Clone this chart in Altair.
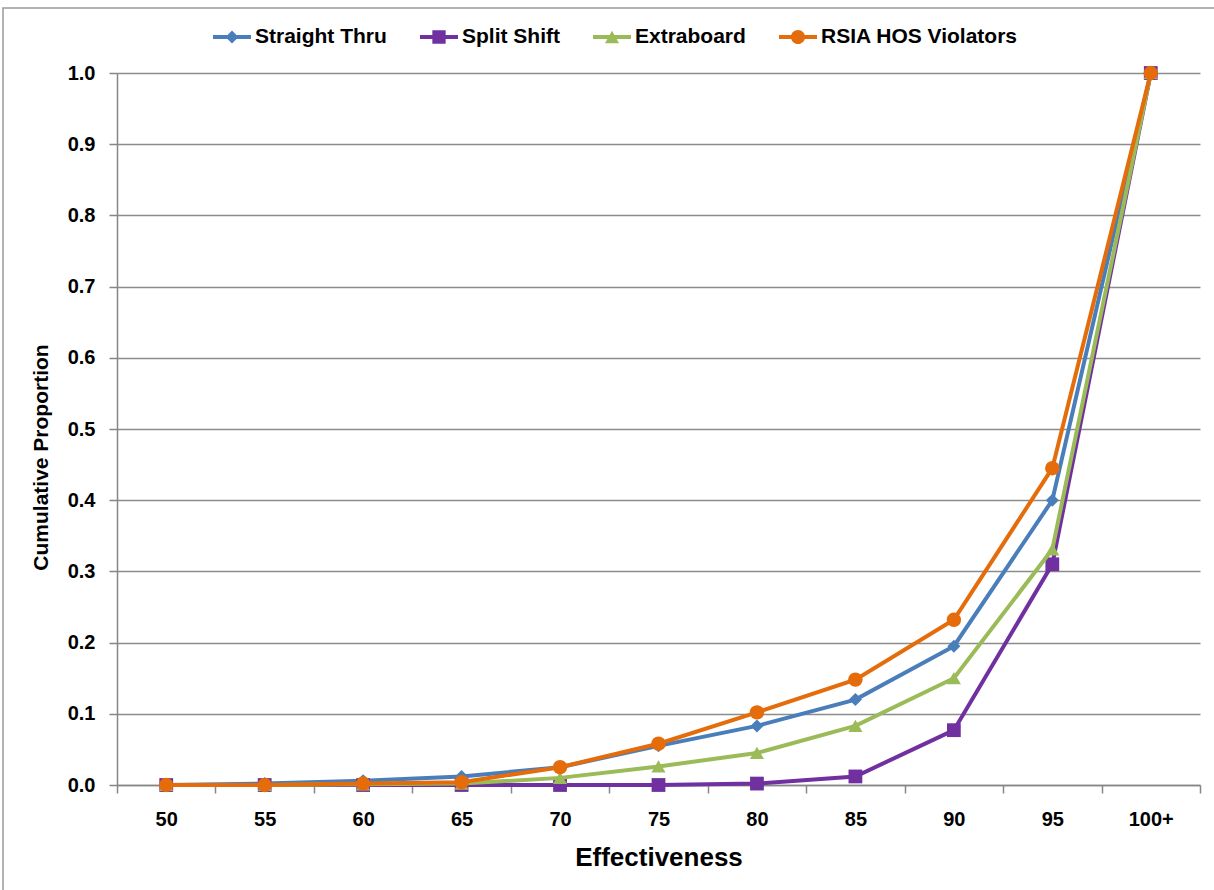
import altair as alt
import pandas as pd

# Effectiveness bins (x categories)
categories = ["50", "55", "60", "65", "70", "75", "80", "85", "90", "95", "100+"]

# Cumulative proportion per schedule type
straight_thru = [0.000, 0.002, 0.006, 0.012, 0.025, 0.055, 0.083, 0.120, 0.195, 0.400, 1.000]
split_shift = [0.000, 0.000, 0.000, 0.000, 0.000, 0.000, 0.002, 0.012, 0.077, 0.310, 1.000]
extraboard = [0.000, 0.000, 0.001, 0.002, 0.010, 0.026, 0.045, 0.083, 0.150, 0.331, 1.000]
rsia_hos = [0.000, 0.000, 0.002, 0.004, 0.025, 0.058, 0.102, 0.148, 0.232, 0.445, 1.000]

series_names = ["Straight Thru", "Split Shift", "Extraboard", "RSIA HOS Violators"]
series_values = [straight_thru, split_shift, extraboard, rsia_hos]
series_colors = ["#4A7EBB", "#7030A0", "#9BBB59", "#E46C0A"]
series_shapes = ["diamond", "square", "triangle-up", "circle"]
series_sizes = [170, 190, 200, 210]

FONT = "Liberation Sans"

rows = []
for name, vals in zip(series_names, series_values):
    for cat, v in zip(categories, vals):
        rows.append({"Effectiveness": cat, "Proportion": v, "Series": name})
df = pd.DataFrame(rows)

# legend glyphs: a short line with the series marker on top
bar = "M-1,-0.105H1V0.105H-1Z"
legend_paths = {
    "Straight Thru": bar + " M0,-0.34L0.34,0L0,0.34L-0.34,0Z",
    "Split Shift": bar + " M-0.35,-0.35H0.35V0.35H-0.35Z",
    "Extraboard": bar + " M0,-0.33L0.37,0.33L-0.37,0.33Z",
    "RSIA HOS Violators": bar + " M0.37,0A0.37,0.37 0 1,1 -0.37,0A0.37,0.37 0 1,1 0.37,0Z",
}
symbol_expr = " : ".join(
    f"datum.value === '{k}' ? '{v}'" for k, v in legend_paths.items()
) + " : 'circle'"

x_enc = alt.X(
    "Effectiveness:N",
    sort=categories,
    scale=alt.Scale(paddingInner=0, paddingOuter=0),
    axis=alt.Axis(
        title="Effectiveness",
        labelAngle=0,
        tickBand="extent",
        tickSize=8,
        labelPadding=16,
        titlePadding=15,
        grid=False,
    ),
)
y_enc = alt.Y(
    "Proportion:Q",
    scale=alt.Scale(domain=[0, 1], nice=False, zero=True),
    axis=alt.Axis(
        title="Cumulative Proportion",
        values=[i / 10 for i in range(11)],
        format=".1f",
        tickSize=8,
        labelPadding=14,
        titlePadding=16,
        titleY=384,
        grid=True,
    ),
)

color_enc = alt.Color(
    "Series:N",
    scale=alt.Scale(domain=series_names, range=series_colors),
    legend=alt.Legend(
        title=None,
        orient="none",
        direction="horizontal",
        legendX=96,
        legendY=-55,
        symbolSize=1444,
        symbolType={"expr": symbol_expr},
        symbolStrokeWidth=0,
        symbolOpacity=1,
        labelOffset=4,
        labelLimit=0,
        columnPadding=33,
        padding=0,
    ),
)

# light frame around the chart area (only its top and left edges fall inside the page)
frame = alt.Chart(pd.DataFrame({"k": [0]})).mark_rect(
    fill="white", fillOpacity=0, stroke="#9a9a9a", strokeWidth=1.5
).encode(
    x=alt.value(-114), x2=alt.value(1120), y=alt.value(-65), y2=alt.value(840)
)

layers = [frame]
for name, col, shp, sz in zip(series_names, series_colors, series_shapes, series_sizes):
    sub = df[df["Series"] == name]
    line = alt.Chart(sub).mark_line(color=col, strokeWidth=4).encode(x=x_enc, y=y_enc)
    pts = alt.Chart(sub).mark_point(
        filled=True, opacity=1, shape=shp, size=sz
    ).encode(x=x_enc, y=y_enc, color=color_enc)
    layers += [line, pts]

chart = alt.layer(*layers).properties(
    width=1083,
    height=712,
    autosize=alt.AutoSizeParams(type="none"),
    padding={"left": 117, "top": 73, "right": 14, "bottom": 105},
    background="white",
).configure_view(
    stroke=None
).configure_axis(
    labelFont=FONT,
    titleFont=FONT,
    labelFontSize=20,
    labelFontWeight="bold",
    labelColor="#000000",
    titleFontWeight="bold",
    titleColor="#000000",
    domainColor="#868686",
    domainWidth=1.5,
    tickColor="#868686",
    tickWidth=1.5,
    gridColor="#8c8c8c",
    gridWidth=1.3,
).configure_axisX(
    titleFontSize=26,
).configure_axisY(
    titleFontSize=21,
).configure_legend(
    labelFont=FONT,
    labelFontSize=21,
    labelFontWeight="bold",
    labelColor="#000000",
)

chart.save("out.html", embed_options={"renderer": "svg", "actions": False})
